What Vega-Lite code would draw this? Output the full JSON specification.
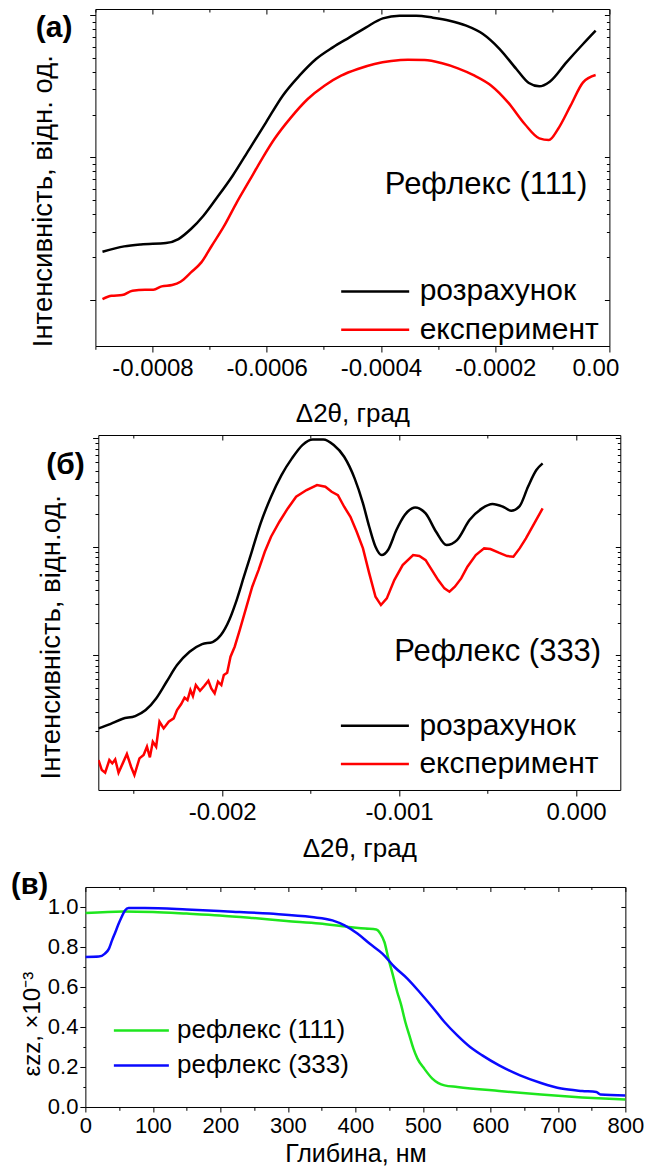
{
  "$schema": "https://vega.github.io/schema/vega-lite/v6.json",
  "padding": {"left": 10.3, "top": 8, "right": 0, "bottom": 0},
  "background": "white",
  "spacing": 7,
  "center": true,
  "config": {
    "font": "Liberation Sans",
    "view": {"stroke": "#000000", "strokeWidth": 1},
    "axis": {"domain": false, "grid": false, "tickColor": "#000000", "tickWidth": 1, "labelColor": "#000000", "titleColor": "#000000", "labelFont": "Liberation Sans", "titleFont": "Liberation Sans", "titleFontWeight": "normal", "labelFlush": false, "labelOverlap": false, "labelBound": false},
    "legend": {"labelFont": "Liberation Sans", "labelColor": "#000000"}
  },
  "resolve": {"scale": {"color": "independent"}, "legend": {"color": "independent"}},
  "datasets": {
    "a": [
      {"x": -0.0008876, "y": 2.174, "s": "розрахунок"}, {"x": -0.0008496, "y": 2.370, "s": "розрахунок"}, {"x": -0.0008204, "y": 2.447, "s": "розрахунок"}, {"x": -0.0007765, "y": 2.501, "s": "розрахунок"}, {"x": -0.0007546, "y": 2.668, "s": "розрахунок"}, {"x": -0.0007327, "y": 3.137, "s": "розрахунок"}, {"x": -0.0007108, "y": 3.892, "s": "розрахунок"}, {"x": -0.0006889, "y": 5.097, "s": "розрахунок"}, {"x": -0.0006597, "y": 7.432, "s": "розрахунок"}, {"x": -0.0006304, "y": 11.44, "s": "розрахунок"}, {"x": -0.0006012, "y": 17.62, "s": "розрахунок"}, {"x": -0.000572, "y": 27.13, "s": "розрахунок"}, {"x": -0.0005428, "y": 37.48, "s": "розрахунок"}, {"x": -0.0005136, "y": 49.08, "s": "розрахунок"}, {"x": -0.0004843, "y": 59.28, "s": "розрахунок"}, {"x": -0.0004551, "y": 69.68, "s": "розрахунок"}, {"x": -0.0004259, "y": 81.93, "s": "розрахунок"}, {"x": -0.0003967, "y": 94.75, "s": "розрахунок"}, {"x": -0.0003675, "y": 98.9, "s": "розрахунок"}, {"x": -0.0003382, "y": 98.9, "s": "розрахунок"}, {"x": -0.000309, "y": 95.8, "s": "розрахунок"}, {"x": -0.0002798, "y": 91.26, "s": "розрахунок"}, {"x": -0.0002506, "y": 84.18, "s": "розрахунок"}, {"x": -0.0002214, "y": 73.55, "s": "розрахунок"}, {"x": -0.0001921, "y": 57.69, "s": "розрахунок"}, {"x": -0.0001629, "y": 41.74, "s": "розрахунок"}, {"x": -0.000141, "y": 33.29, "s": "розрахунок"}, {"x": -0.0001227, "y": 31.54, "s": "розрахунок"}, {"x": -0.0001045, "y": 34.02, "s": "розрахунок"}, {"x": -0.0000753, "y": 46.5, "s": "розрахунок"}, {"x": -0.0000461, "y": 62.56, "s": "розрахунок"}, {"x": -0.0000241, "y": 77.62, "s": "розрахунок"},
      {"x": -0.0008876, "y": 1.011, "s": "експеримент"}, {"x": -0.0008715, "y": 1.067, "s": "експеримент"}, {"x": -0.0008532, "y": 1.078, "s": "експеримент"}, {"x": -0.000835, "y": 1.157, "s": "експеримент"}, {"x": -0.0008131, "y": 1.176, "s": "експеримент"}, {"x": -0.0007985, "y": 1.176, "s": "експеримент"}, {"x": -0.0007839, "y": 1.241, "s": "експеримент"}, {"x": -0.0007656, "y": 1.268, "s": "експеримент"}, {"x": -0.000751, "y": 1.338, "s": "експеримент"}, {"x": -0.0007327, "y": 1.556, "s": "експеримент"}, {"x": -0.0007145, "y": 1.829, "s": "експеримент"}, {"x": -0.0006962, "y": 2.395, "s": "експеримент"}, {"x": -0.0006743, "y": 3.311, "s": "експеримент"}, {"x": -0.0006524, "y": 4.83, "s": "експеримент"}, {"x": -0.0006304, "y": 6.857, "s": "експеримент"}, {"x": -0.0006085, "y": 9.734, "s": "експеримент"}, {"x": -0.0005866, "y": 13.45, "s": "експеримент"}, {"x": -0.0005574, "y": 19.1, "s": "експеримент"}, {"x": -0.0005282, "y": 25.7, "s": "експеримент"}, {"x": -0.000499, "y": 31.88, "s": "експеримент"}, {"x": -0.0004697, "y": 37.48, "s": "експеримент"}, {"x": -0.0004405, "y": 41.74, "s": "експеримент"}, {"x": -0.0004113, "y": 45.26, "s": "експеримент"}, {"x": -0.0003821, "y": 47.52, "s": "експеримент"}, {"x": -0.0003529, "y": 48.56, "s": "експеримент"}, {"x": -0.0003236, "y": 48.3, "s": "експеримент"}, {"x": -0.0002944, "y": 46.0, "s": "експеримент"}, {"x": -0.0002652, "y": 42.2, "s": "експеримент"}, {"x": -0.000236, "y": 37.48, "s": "експеримент"}, {"x": -0.0002068, "y": 31.88, "s": "експеримент"}, {"x": -0.0001775, "y": 24.34, "s": "експеримент"}, {"x": -0.0001483, "y": 17.15, "s": "експеримент"}, {"x": -0.0001227, "y": 13.6, "s": "експеримент"}, {"x": -0.0001059, "y": 13.24, "s": "експеримент"}, {"x": -0.0000899, "y": 15.82, "s": "експеримент"}, {"x": -0.000068, "y": 23.07, "s": "експеримент"}, {"x": -0.0000461, "y": 33.65, "s": "експеримент"}, {"x": -0.0000241, "y": 37.88, "s": "експеримент"}
    ],
    "b": [
      {"x": -0.0026989, "y": 2.124, "s": "розрахунок"}, {"x": -0.0026328, "y": 2.329, "s": "розрахунок"}, {"x": -0.002562, "y": 2.608, "s": "розрахунок"}, {"x": -0.0024912, "y": 2.76, "s": "розрахунок"}, {"x": -0.0024321, "y": 3.135, "s": "розрахунок"}, {"x": -0.0023731, "y": 4.015, "s": "розрахунок"}, {"x": -0.0023141, "y": 5.72, "s": "розрахунок"}, {"x": -0.002255, "y": 8.144, "s": "розрахунок"}, {"x": -0.0021842, "y": 10.81, "s": "розрахунок"}, {"x": -0.0021133, "y": 12.72, "s": "розрахунок"}, {"x": -0.0020543, "y": 13.27, "s": "розрахунок"}, {"x": -0.0020071, "y": 15.39, "s": "розрахунок"}, {"x": -0.0019599, "y": 21.17, "s": "розрахунок"}, {"x": -0.0019244, "y": 30.16, "s": "розрахунок"}, {"x": -0.0018772, "y": 53.09, "s": "розрахунок"}, {"x": -0.00183, "y": 93.5, "s": "розрахунок"}, {"x": -0.0017828, "y": 164.7, "s": "розрахунок"}, {"x": -0.0017237, "y": 290.0, "s": "розрахунок"}, {"x": -0.0016647, "y": 459.3, "s": "розрахунок"}, {"x": -0.0016057, "y": 654.1, "s": "розрахунок"}, {"x": -0.0015466, "y": 868.1, "s": "розрахунок"}, {"x": -0.0014876, "y": 979.0, "s": "розрахунок"}, {"x": -0.0014286, "y": 979.0, "s": "розрахунок"}, {"x": -0.0013695, "y": 868.1, "s": "розрахунок"}, {"x": -0.0013105, "y": 677.5, "s": "розрахунок"}, {"x": -0.0012515, "y": 427.9, "s": "розрахунок"}, {"x": -0.0012042, "y": 251.7, "s": "розрахунок"}, {"x": -0.0011688, "y": 153.4, "s": "розрахунок"}, {"x": -0.0011334, "y": 100.4, "s": "розрахунок"}, {"x": -0.001098, "y": 84.1, "s": "розрахунок"}, {"x": -0.0010626, "y": 93.5, "s": "розрахунок"}, {"x": -0.0010153, "y": 142.9, "s": "розрахунок"}, {"x": -0.0009681, "y": 196.6, "s": "розрахунок"}, {"x": -0.0009091, "y": 231.3, "s": "розрахунок"}, {"x": -0.00085, "y": 203.7, "s": "розрахунок"}, {"x": -0.000791, "y": 138.0, "s": "розрахунок"}, {"x": -0.000732, "y": 104.0, "s": "розрахунок"}, {"x": -0.0006729, "y": 115.6, "s": "розрахунок"}, {"x": -0.0006021, "y": 176.7, "s": "розрахунок"}, {"x": -0.0005313, "y": 226.4, "s": "розрахунок"}, {"x": -0.0004722, "y": 248.3, "s": "розрахунок"}, {"x": -0.0004132, "y": 234.6, "s": "розрахунок"}, {"x": -0.000366, "y": 215.4, "s": "розрахунок"}, {"x": -0.0003188, "y": 237.9, "s": "розрахунок"}, {"x": -0.0002715, "y": 358.5, "s": "розрахунок"}, {"x": -0.0002243, "y": 510.7, "s": "розрахунок"}, {"x": -0.0001889, "y": 588.5, "s": "розрахунок"},
      {"x": -0.0026989, "y": 1.085, "s": "експеримент"}, {"x": -0.0026801, "y": 0.877, "s": "експеримент"}, {"x": -0.0026612, "y": 0.829, "s": "експеримент"}, {"x": -0.0026376, "y": 1.085, "s": "експеримент"}, {"x": -0.002621, "y": 1.011, "s": "експеримент"}, {"x": -0.0026045, "y": 1.1, "s": "експеримент"}, {"x": -0.0025856, "y": 0.829, "s": "експеримент"}, {"x": -0.002562, "y": 1.011, "s": "експеримент"}, {"x": -0.0025384, "y": 1.232, "s": "експеримент"}, {"x": -0.0025148, "y": 0.942, "s": "експеримент"}, {"x": -0.0024959, "y": 0.789, "s": "експеримент"}, {"x": -0.0024675, "y": 1.124, "s": "експеримент"}, {"x": -0.0024439, "y": 1.206, "s": "експеримент"}, {"x": -0.002425, "y": 1.439, "s": "експеримент"}, {"x": -0.0024085, "y": 1.148, "s": "експеримент"}, {"x": -0.002392, "y": 1.601, "s": "експеримент"}, {"x": -0.0023731, "y": 1.439, "s": "експеримент"}, {"x": -0.0023542, "y": 2.447, "s": "експеримент"}, {"x": -0.0023306, "y": 2.124, "s": "експеримент"}, {"x": -0.0023022, "y": 2.447, "s": "експеримент"}, {"x": -0.0022739, "y": 2.627, "s": "експеримент"}, {"x": -0.002255, "y": 3.135, "s": "експеримент"}, {"x": -0.0022314, "y": 3.561, "s": "експеримент"}, {"x": -0.0022125, "y": 4.072, "s": "експеримент"}, {"x": -0.002196, "y": 3.875, "s": "експеримент"}, {"x": -0.0021795, "y": 4.792, "s": "експеримент"}, {"x": -0.0021653, "y": 4.219, "s": "експеримент"}, {"x": -0.0021488, "y": 5.329, "s": "експеримент"}, {"x": -0.0021251, "y": 4.725, "s": "експеримент"}, {"x": -0.0021015, "y": 5.217, "s": "експеримент"}, {"x": -0.0020779, "y": 5.842, "s": "експеримент"}, {"x": -0.0020614, "y": 4.965, "s": "експеримент"}, {"x": -0.0020425, "y": 4.465, "s": "експеримент"}, {"x": -0.0020236, "y": 5.72, "s": "експеримент"}, {"x": -0.0020047, "y": 5.329, "s": "експеримент"}, {"x": -0.0019906, "y": 6.587, "s": "експеримент"}, {"x": -0.0019717, "y": 6.921, "s": "експеримент"}, {"x": -0.0019528, "y": 9.721, "s": "експеримент"}, {"x": -0.0019292, "y": 12.02, "s": "експеримент"}, {"x": -0.0019008, "y": 17.12, "s": "експеримент"}, {"x": -0.0018654, "y": 27.12, "s": "експеримент"}, {"x": -0.00183, "y": 42.95, "s": "експеримент"}, {"x": -0.0017946, "y": 61.15, "s": "експеримент"}, {"x": -0.0017591, "y": 90.27, "s": "експеримент"}, {"x": -0.0017237, "y": 124.1, "s": "експеримент"}, {"x": -0.0016765, "y": 170.6, "s": "експеримент"}, {"x": -0.0016293, "y": 226.4, "s": "експеримент"}, {"x": -0.001582, "y": 290.0, "s": "експеримент"}, {"x": -0.001523, "y": 334.1, "s": "експеримент"}, {"x": -0.001464, "y": 371.5, "s": "експеримент"}, {"x": -0.0014168, "y": 358.5, "s": "експеримент"}, {"x": -0.0013813, "y": 322.3, "s": "експеримент"}, {"x": -0.0013459, "y": 300.4, "s": "експеримент"}, {"x": -0.0013105, "y": 234.6, "s": "експеримент"}, {"x": -0.0012751, "y": 189.7, "s": "експеримент"}, {"x": -0.0012397, "y": 138.0, "s": "експеримент"}, {"x": -0.0012042, "y": 96.9, "s": "експеримент"}, {"x": -0.0011688, "y": 57.0, "s": "експеримент"}, {"x": -0.0011334, "y": 34.72, "s": "експеримент"}, {"x": -0.0011027, "y": 29.1, "s": "експеримент"}, {"x": -0.0010696, "y": 33.52, "s": "експеримент"}, {"x": -0.0010271, "y": 49.47, "s": "експеримент"}, {"x": -0.0009799, "y": 68.02, "s": "експеримент"}, {"x": -0.0009209, "y": 84.1, "s": "експеримент"}, {"x": -0.0008855, "y": 82.33, "s": "експеримент"}, {"x": -0.00085, "y": 75.6, "s": "експеримент"}, {"x": -0.0008146, "y": 61.15, "s": "експеримент"}, {"x": -0.0007792, "y": 49.47, "s": "експеримент"}, {"x": -0.0007438, "y": 41.44, "s": "експеримент"}, {"x": -0.0007155, "y": 38.63, "s": "експеримент"}, {"x": -0.0006848, "y": 42.95, "s": "експеримент"}, {"x": -0.0006493, "y": 51.25, "s": "експеримент"}, {"x": -0.0006139, "y": 65.65, "s": "експеримент"}, {"x": -0.0005667, "y": 84.1, "s": "експеримент"}, {"x": -0.0005195, "y": 96.9, "s": "експеримент"}, {"x": -0.000484, "y": 95.5, "s": "експеримент"}, {"x": -0.0004368, "y": 88.4, "s": "експеримент"}, {"x": -0.0003896, "y": 82.33, "s": "експеримент"}, {"x": -0.0003542, "y": 81.18, "s": "експеримент"}, {"x": -0.0003188, "y": 96.9, "s": "експеримент"}, {"x": -0.0002833, "y": 119.7, "s": "експеримент"}, {"x": -0.0002361, "y": 164.7, "s": "експеримент"}, {"x": -0.0001889, "y": 226.4, "s": "експеримент"}
    ],
    "c": [
      {"x": 0, "y": 0.970, "s": "рефлекс (111)"}, {"x": 57, "y": 0.978, "s": "рефлекс (111)"}, {"x": 100, "y": 0.975, "s": "рефлекс (111)"}, {"x": 150, "y": 0.967, "s": "рефлекс (111)"}, {"x": 199, "y": 0.958, "s": "рефлекс (111)"}, {"x": 248, "y": 0.945, "s": "рефлекс (111)"}, {"x": 298, "y": 0.930, "s": "рефлекс (111)"}, {"x": 347, "y": 0.917, "s": "рефлекс (111)"}, {"x": 390, "y": 0.900, "s": "рефлекс (111)"}, {"x": 415, "y": 0.892, "s": "рефлекс (111)"}, {"x": 431, "y": 0.887, "s": "рефлекс (111)"}, {"x": 437, "y": 0.867, "s": "рефлекс (111)"}, {"x": 443, "y": 0.825, "s": "рефлекс (111)"}, {"x": 449, "y": 0.742, "s": "рефлекс (111)"}, {"x": 455, "y": 0.667, "s": "рефлекс (111)"}, {"x": 462, "y": 0.575, "s": "рефлекс (111)"}, {"x": 468, "y": 0.508, "s": "рефлекс (111)"}, {"x": 474, "y": 0.425, "s": "рефлекс (111)"}, {"x": 480, "y": 0.358, "s": "рефлекс (111)"}, {"x": 486, "y": 0.292, "s": "рефлекс (111)"}, {"x": 492, "y": 0.242, "s": "рефлекс (111)"}, {"x": 502, "y": 0.192, "s": "рефлекс (111)"}, {"x": 514, "y": 0.142, "s": "рефлекс (111)"}, {"x": 532, "y": 0.108, "s": "рефлекс (111)"}, {"x": 551, "y": 0.100, "s": "рефлекс (111)"}, {"x": 613, "y": 0.080, "s": "рефлекс (111)"}, {"x": 675, "y": 0.062, "s": "рефлекс (111)"}, {"x": 736, "y": 0.048, "s": "рефлекс (111)"}, {"x": 800, "y": 0.037, "s": "рефлекс (111)"},
      {"x": 0, "y": 0.750, "s": "рефлекс (333)"}, {"x": 20, "y": 0.752, "s": "рефлекс (333)"}, {"x": 29, "y": 0.767, "s": "рефлекс (333)"}, {"x": 35, "y": 0.792, "s": "рефлекс (333)"}, {"x": 39.5, "y": 0.833, "s": "рефлекс (333)"}, {"x": 44.5, "y": 0.875, "s": "рефлекс (333)"}, {"x": 49.4, "y": 0.917, "s": "рефлекс (333)"}, {"x": 53.7, "y": 0.950, "s": "рефлекс (333)"}, {"x": 58.7, "y": 0.983, "s": "рефлекс (333)"}, {"x": 64, "y": 0.995, "s": "рефлекс (333)"}, {"x": 88, "y": 0.995, "s": "рефлекс (333)"}, {"x": 150, "y": 0.988, "s": "рефлекс (333)"}, {"x": 211, "y": 0.978, "s": "рефлекс (333)"}, {"x": 273, "y": 0.967, "s": "рефлекс (333)"}, {"x": 335, "y": 0.950, "s": "рефлекс (333)"}, {"x": 366, "y": 0.933, "s": "рефлекс (333)"}, {"x": 384, "y": 0.908, "s": "рефлекс (333)"}, {"x": 403, "y": 0.867, "s": "рефлекс (333)"}, {"x": 421, "y": 0.817, "s": "рефлекс (333)"}, {"x": 440, "y": 0.767, "s": "рефлекс (333)"}, {"x": 458, "y": 0.700, "s": "рефлекс (333)"}, {"x": 477, "y": 0.642, "s": "рефлекс (333)"}, {"x": 495, "y": 0.575, "s": "рефлекс (333)"}, {"x": 514, "y": 0.500, "s": "рефлекс (333)"}, {"x": 532, "y": 0.425, "s": "рефлекс (333)"}, {"x": 551, "y": 0.358, "s": "рефлекс (333)"}, {"x": 570, "y": 0.300, "s": "рефлекс (333)"}, {"x": 588, "y": 0.258, "s": "рефлекс (333)"}, {"x": 613, "y": 0.208, "s": "рефлекс (333)"}, {"x": 644, "y": 0.158, "s": "рефлекс (333)"}, {"x": 675, "y": 0.120, "s": "рефлекс (333)"}, {"x": 705, "y": 0.092, "s": "рефлекс (333)"}, {"x": 736, "y": 0.080, "s": "рефлекс (333)"}, {"x": 757, "y": 0.075, "s": "рефлекс (333)"}, {"x": 763, "y": 0.063, "s": "рефлекс (333)"}, {"x": 800, "y": 0.058, "s": "рефлекс (333)"}
    ]
  },
  "vconcat": [
    {
      "width": 514, "height": 337,
      "layer": [
        {
          "data": {"name": "a"},
          "mark": {"type": "line", "strokeWidth": 2.5, "clip": true, "interpolate": "monotone"},
          "encoding": {
            "x": {"field": "x", "type": "quantitative", "title": "Δ2θ, град",
              "scale": {"domain": [-0.0009, 0], "nice": false, "zero": false},
              "axis": {"orient": "bottom", "values": [-0.0009, -0.0008, -0.0007, -0.0006, -0.0005, -0.0004, -0.0003, -0.0002, -0.0001, 0],
                "labelExpr": "round(datum.value*10000) % 2 != 0 ? '' : (datum.value == 0 ? '0.00' : '-' + format(abs(datum.value), '.4f'))",
                "tickSize": {"condition": {"test": "round(datum.value*10000) % 2 != 0", "value": 3.3}, "value": 6},
                "labelOffset": {"condition": {"test": "datum.value == 0", "value": -14}, "value": 0},
                "labelFontSize": 24, "labelPadding": 4, "titleFontSize": 26, "titlePadding": 20.5}},
            "y": {"field": "y", "type": "quantitative", "title": "Інтенсивність, відн. од.",
              "scale": {"type": "log", "domain": [0.473, 110.2], "nice": false},
              "axis": {"orient": "left", "values": [1, 2, 3, 4, 5, 6, 7, 8, 9, 10, 20, 30, 40, 50, 60, 70, 80, 90, 100], "labels": false,
                "tickSize": {"condition": {"test": "datum.value == 1 || datum.value == 10 || datum.value == 100", "value": 5.7}, "value": 3.3},
                "titleFontSize": 27.5, "titlePadding": 31.5, "titleY": 191.7}},
            "color": {"field": "s", "type": "nominal",
              "scale": {"domain": ["розрахунок", "експеримент"], "range": ["#000000", "#ff0000"]},
              "legend": {"orient": "none", "legendX": 245.8, "legendY": 267.4, "title": null, "symbolType": "M-3.4,0H3.4", "symbolSize": 400, "symbolStrokeWidth": 2.5, "symbolOffset": 19, "labelFontSize": 30, "rowPadding": 8.3, "labelOffset": 29.5, "padding": 0, "labelLimit": 400}}
          }
        },
        {
          "data": {"values": [{"x": -0.000216, "y": 6.40, "t": "Рефлекс (111)"}]},
          "mark": {"type": "text", "fontSize": 31, "font": "Liberation Sans", "color": "#000000", "align": "center", "baseline": "middle"},
          "encoding": {
            "x": {"field": "x", "type": "quantitative", "scale": {"domain": [-0.0009, 0], "nice": false, "zero": false},
              "axis": {"orient": "top", "values": [-0.0009, -0.0008, -0.0007, -0.0006, -0.0005, -0.0004, -0.0003, -0.0002, -0.0001, 0], "labels": false, "title": null,
                "tickSize": {"condition": {"test": "round(datum.value*10000) % 2 != 0", "value": -3}, "value": -5}}},
            "y": {"field": "y", "type": "quantitative", "scale": {"type": "log", "domain": [0.473, 110.2], "nice": false},
              "axis": {"orient": "right", "values": [1, 2, 3, 4, 5, 6, 7, 8, 9, 10, 20, 30, 40, 50, 60, 70, 80, 90, 100], "labels": false,
                "title": ".", "titleOpacity": 0, "titleFontSize": 10, "titlePadding": 13.8,
                "tickSize": {"condition": {"test": "datum.value == 1 || datum.value == 10 || datum.value == 100", "value": -5}, "value": -3}}},
            "text": {"field": "t"}
          }
        },
        {
          "data": {"values": [{"x": -0.0010045, "y": 70.0, "t": "(a)"}]},
          "mark": {"type": "text", "fontSize": 30, "fontWeight": "bold", "font": "Liberation Sans", "color": "#000000", "align": "left", "baseline": "alphabetic", "clip": false},
          "encoding": {
            "x": {"field": "x", "type": "quantitative", "scale": {"domain": [-0.0009, 0], "nice": false, "zero": false}, "axis": null},
            "y": {"field": "y", "type": "quantitative", "scale": {"type": "log", "domain": [0.473, 110.2], "nice": false}, "axis": null},
            "text": {"field": "t"}
          }
        }
      ],
      "resolve": {"axis": {"x": "independent", "y": "independent"}}
    },
    {
      "width": 522, "height": 355,
      "layer": [
        {
          "data": {"name": "b"},
          "transform": [{"filter": "datum.s == 'розрахунок'"}],
          "mark": {"type": "line", "strokeWidth": 2.5, "clip": true, "interpolate": "monotone"},
          "encoding": {
            "x": {"field": "x", "type": "quantitative", "title": "Δ2θ, град",
              "scale": {"domain": [-0.0027, 0.00025], "nice": false, "zero": false},
              "axis": {"orient": "bottom", "values": [-0.0025, -0.002, -0.0015, -0.001, -0.0005, 0],
                "labelExpr": "round(datum.value*2000) % 2 != 0 ? '' : (datum.value < 0 ? '-' : '') + format(abs(datum.value), '.3f')",
                "tickSize": {"condition": {"test": "round(datum.value*2000) % 2 != 0", "value": 3.3}, "value": 6},
                "labelFontSize": 24, "labelPadding": 5, "titleFontSize": 26, "titlePadding": 11}},
            "y": {"field": "y", "type": "quantitative", "title": "Інтенсивність, відн.од.",
              "scale": {"type": "log", "domain": [0.5745, 1075], "nice": false},
              "axis": {"orient": "left", "values": [2, 3, 4, 5, 6, 7, 8, 9, 10, 20, 30, 40, 50, 60, 70, 80, 90, 100, 200, 300, 400, 500, 600, 700, 800, 900, 1000], "labels": false,
                "tickSize": {"condition": {"test": "datum.value == 10 || datum.value == 100 || datum.value == 1000", "value": 5.7}, "value": 3.3},
                "titleFontSize": 27.5, "titlePadding": 27, "titleY": 201.7}},
            "color": {"field": "s", "type": "nominal",
              "scale": {"domain": ["розрахунок", "експеримент"], "range": ["#000000", "#ff0000"]},
              "legend": {"orient": "none", "legendX": 242.6, "legendY": 275.7, "title": null, "symbolType": "M-3.4,0H3.4", "symbolSize": 400, "symbolStrokeWidth": 2.5, "symbolOffset": 19, "labelFontSize": 30, "rowPadding": 8.3, "labelOffset": 29.5, "padding": 0, "labelLimit": 400}}
          }
        },
        {
          "data": {"name": "b"},
          "transform": [{"filter": "datum.s == 'експеримент'"}],
          "mark": {"type": "line", "strokeWidth": 2.5, "clip": true},
          "encoding": {
            "x": {"field": "x", "type": "quantitative", "scale": {"domain": [-0.0027, 0.00025], "nice": false, "zero": false}, "axis": null},
            "y": {"field": "y", "type": "quantitative", "scale": {"type": "log", "domain": [0.5745, 1075], "nice": false}, "axis": null},
            "color": {"field": "s", "type": "nominal",
              "scale": {"domain": ["розрахунок", "експеримент"], "range": ["#000000", "#ff0000"]},
              "legend": {"orient": "none", "legendX": 242.6, "legendY": 275.7, "title": null, "symbolType": "M-3.4,0H3.4", "symbolSize": 400, "symbolStrokeWidth": 2.5, "symbolOffset": 19, "labelFontSize": 30, "rowPadding": 8.3, "labelOffset": 29.5, "padding": 0, "labelLimit": 400}}
          }
        },
        {
          "data": {"values": [{"x": -0.000443, "y": 10.8, "t": "Рефлекс (333)"}]},
          "mark": {"type": "text", "fontSize": 31, "font": "Liberation Sans", "color": "#000000", "align": "center", "baseline": "middle"},
          "encoding": {
            "x": {"field": "x", "type": "quantitative", "scale": {"domain": [-0.0027, 0.00025], "nice": false, "zero": false},
              "axis": {"orient": "top", "values": [-0.0025, -0.002, -0.0015, -0.001, -0.0005, 0], "labels": false, "title": null,
                "tickSize": {"condition": {"test": "round(datum.value*2000) % 2 != 0", "value": -3}, "value": -5}}},
            "y": {"field": "y", "type": "quantitative", "scale": {"type": "log", "domain": [0.5745, 1075], "nice": false},
              "axis": {"orient": "right", "values": [2, 3, 4, 5, 6, 7, 8, 9, 10, 20, 30, 40, 50, 60, 70, 80, 90, 100, 200, 300, 400, 500, 600, 700, 800, 900, 1000], "labels": false,
                "title": ".", "titleOpacity": 0, "titleFontSize": 10, "titlePadding": 0,
                "tickSize": {"condition": {"test": "datum.value == 10 || datum.value == 100 || datum.value == 1000", "value": -5}, "value": -3}}},
            "text": {"field": "t"}
          }
        },
        {
          "data": {"values": [{"x": -0.002994, "y": 472.9, "t": "(б)"}]},
          "mark": {"type": "text", "fontSize": 30, "fontWeight": "bold", "font": "Liberation Sans", "color": "#000000", "align": "left", "baseline": "alphabetic", "clip": false},
          "encoding": {
            "x": {"field": "x", "type": "quantitative", "scale": {"domain": [-0.0027, 0.00025], "nice": false, "zero": false}, "axis": null},
            "y": {"field": "y", "type": "quantitative", "scale": {"type": "log", "domain": [0.5745, 1075], "nice": false}, "axis": null},
            "text": {"field": "t"}
          }
        }
      ],
      "resolve": {"axis": {"x": "independent", "y": "independent"}}
    },
    {
      "width": 540, "height": 220,
      "layer": [
        {
          "data": {"name": "c"},
          "mark": {"type": "line", "strokeWidth": 2.5, "clip": true, "interpolate": "monotone"},
          "encoding": {
            "x": {"field": "x", "type": "quantitative", "title": "Глибина, нм",
              "scale": {"domain": [0, 800], "nice": false, "zero": false},
              "axis": {"orient": "bottom", "values": [0, 50, 100, 150, 200, 250, 300, 350, 400, 450, 500, 550, 600, 650, 700, 750, 800],
                "labelExpr": "datum.value % 100 == 0 ? format(datum.value, 'd') : ''",
                "tickSize": {"condition": {"test": "datum.value % 100 != 0", "value": 3.3}, "value": 5},
                "labelFontSize": 22, "labelPadding": 4, "titleFontSize": 25, "titlePadding": 5}},
            "y": {"field": "y", "type": "quantitative", "title": "εzz, ×10⁻³",
              "scale": {"domain": [0, 1.1], "nice": false, "zero": false},
              "axis": {"orient": "left", "values": [0, 0.1, 0.2, 0.3, 0.4, 0.5, 0.6, 0.7, 0.8, 0.9, 1.0],
                "labelExpr": "round(datum.value*10) % 2 == 0 ? format(datum.value, '.1f') : ''",
                "tickSize": {"condition": {"test": "round(datum.value*10) % 2 != 0", "value": 2.5}, "value": 5.5},
                "labelFontSize": 22, "labelPadding": 2, "titleFontSize": 24, "titlePadding": 3, "titleY": 136.7}},
            "color": {"field": "s", "type": "nominal",
              "scale": {"domain": ["рефлекс (111)", "рефлекс (333)"], "range": ["#1ee61e", "#0a0aff"]},
              "legend": {"orient": "none", "legendX": 28.5, "legendY": 130.4, "title": null, "symbolType": "M-2.75,0H2.75", "symbolSize": 400, "symbolStrokeWidth": 2.5, "symbolOffset": 14.5, "labelFontSize": 26, "rowPadding": 9, "labelOffset": 22.7, "padding": 0, "labelLimit": 400}}
          }
        },
        {
          "data": {"name": "c"},
          "mark": {"type": "point", "opacity": 0},
          "encoding": {
            "x": {"field": "x", "type": "quantitative", "scale": {"domain": [0, 800], "nice": false, "zero": false},
              "axis": {"orient": "top", "values": [0, 50, 100, 150, 200, 250, 300, 350, 400, 450, 500, 550, 600, 650, 700, 750, 800], "labels": false, "title": null,
                "tickSize": {"condition": {"test": "datum.value % 100 != 0", "value": -2.5}, "value": -4.5}}},
            "y": {"field": "y", "type": "quantitative", "scale": {"domain": [0, 1.1], "nice": false, "zero": false},
              "axis": {"orient": "right", "values": [0, 0.1, 0.2, 0.3, 0.4, 0.5, 0.6, 0.7, 0.8, 0.9, 1.0], "labels": false, "title": null,
                "tickSize": {"condition": {"test": "round(datum.value*10) % 2 != 0", "value": -2.5}, "value": -4.5}}}
          }
        },
        {
          "data": {"values": [{"x": -110.1, "y": 1.0665, "t": "(в)"}]},
          "mark": {"type": "text", "fontSize": 29, "fontWeight": "bold", "font": "Liberation Sans", "color": "#000000", "align": "left", "baseline": "alphabetic", "clip": false},
          "encoding": {
            "x": {"field": "x", "type": "quantitative", "scale": {"domain": [0, 800], "nice": false, "zero": false}, "axis": null},
            "y": {"field": "y", "type": "quantitative", "scale": {"domain": [0, 1.1], "nice": false, "zero": false}, "axis": null},
            "text": {"field": "t"}
          }
        }
      ],
      "resolve": {"axis": {"x": "independent", "y": "independent"}}
    }
  ]
}
